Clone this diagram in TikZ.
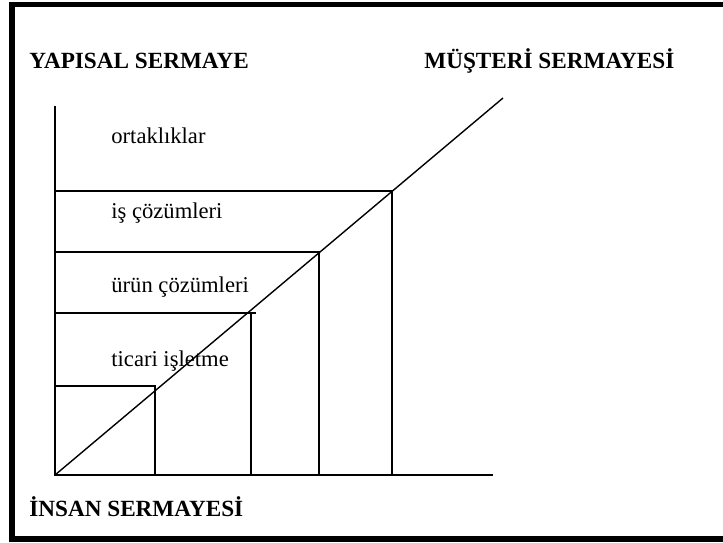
\documentclass[tikz,border=0pt]{standalone}
\usepackage{fontspec}
\setmainfont{Liberation Serif}
\usetikzlibrary{positioning}

\begin{document}
\begin{tikzpicture}[
  x=0.5pt, y=-0.5pt,
  font=\fontsize{11.3}{13}\selectfont,
  frame/.style={line width=2.75pt, draw=black},
  axis/.style={line width=0.7pt, draw=black},
  stepline/.style={line width=0.7pt, draw=black},
  title/.style={font=\fontsize{11.6}{13}\selectfont\bfseries, anchor=base west, inner sep=0pt},
  band/.style={anchor=base west, inner sep=0pt}
]
\useasboundingbox (0,0) rectangle (723,542);

% Frame (right side falls outside the page)
\draw[frame] (740,4.5) -| (12,539) -- (740,539);

% Axes and diagonal
\coordinate (O) at (55,475);
\coordinate (ytop) at (55,106);
\coordinate (xend) at (493,475);
\coordinate (dtop) at (503,98);
\draw[axis] (ytop) -- (O) -- (xend);
\draw[axis] (O) -- (dtop);

% Step corners on the diagonal
\coordinate (c1) at (155,386);
\coordinate (c2) at (251,313);
\coordinate (c2end) at (256,313);
\coordinate (c3) at (319,252);
\coordinate (c4) at (392,191);

\foreach \c in {c1,c3,c4}
  \draw[stepline] (O |- \c) -- (\c) -- (\c |- O);
\draw[stepline] (O |- c2) -- (c2end);
\draw[stepline] ([yshift=0.5pt]c2) -- (c2 |- O);

% Axis titles
\node[title] (yapisal) at (29,68) {YAPISAL SERMAYE};
\node[title] (musteri) at (424,68) {MÜŞTERİ SERMAYESİ};
\node[title] (insan) at (29,516) {İNSAN SERMAYESİ};

% Band labels
\node[band] (ortak) at (111,143) {ortaklıklar};
\node[band] (is) at (111,218) {iş çözümleri};
\node[band] (urun) at (111,292) {ürün çözümleri};
\node[band] (ticari) at (111,366) {ticari işletme};

\end{tikzpicture}
\end{document}
